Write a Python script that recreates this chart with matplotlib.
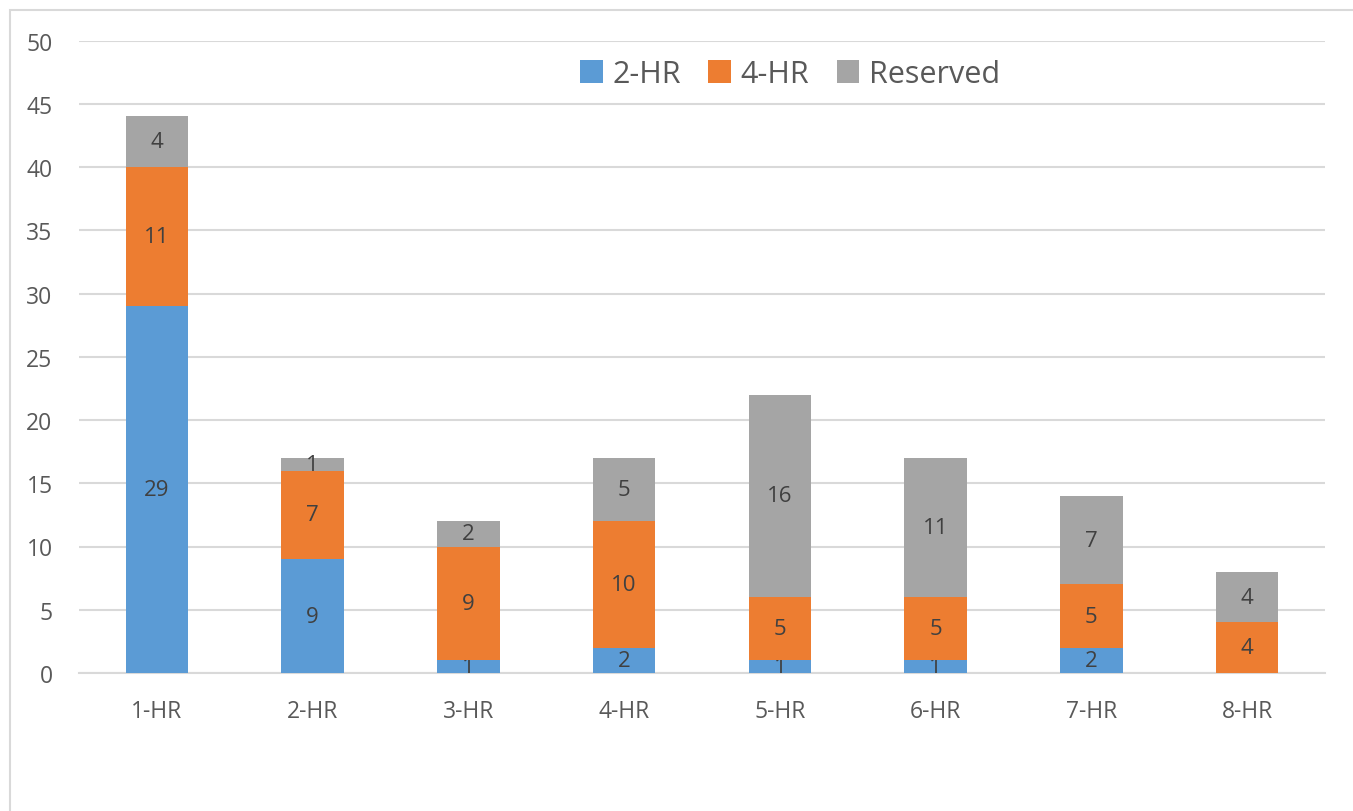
import matplotlib
matplotlib.use("Agg")
import matplotlib.pyplot as plt
from matplotlib.patches import Rectangle

categories = ["1-HR", "2-HR", "3-HR", "4-HR", "5-HR", "6-HR", "7-HR", "8-HR"]
series_names = ["2-HR", "4-HR", "Reserved"]
two_hr = [29, 9, 1, 2, 1, 1, 2, 0]
four_hr = [11, 7, 9, 10, 5, 5, 5, 4]
reserved = [4, 1, 2, 5, 16, 11, 7, 4]
y_ticks = [0, 5, 10, 15, 20, 25, 30, 35, 40, 45, 50]

colors = ["#5B9BD5", "#ED7D31", "#A5A5A5"]
plt.rcParams["font.family"] = ["Open Sans", "DejaVu Sans"]

W, H = 1353, 812
fig = plt.figure(figsize=(W / 100, H / 100), dpi=100)
ax = fig.add_axes([79 / W, (H - 674) / H, (1325 - 79) / W, (674 - 41.5) / H])

x = list(range(len(categories)))
bottom = [0] * len(categories)
for name, vals, col in zip(series_names, [two_hr, four_hr, reserved], colors):
    bars = ax.bar(x, vals, width=0.4, bottom=bottom, color=col, label=name, zorder=3)
    ax.bar_label(bars, labels=[str(v) if v else "" for v in vals],
                 label_type="center", fontsize=16, color="#404040")
    bottom = [b + v for b, v in zip(bottom, vals)]

ax.set_xlim(-0.5, len(categories) - 0.5)
ax.set_ylim(0, 50)
ax.set_yticks(y_ticks)
ax.set_xticks(x)
ax.set_xticklabels(categories)
ax.yaxis.grid(True, color="#D9D9D9", linewidth=1.5, zorder=0)
ax.set_axisbelow(True)
for s in ["top", "right", "left"]:
    ax.spines[s].set_visible(False)
ax.spines["bottom"].set_color("#D9D9D9")
ax.spines["bottom"].set_linewidth(1.5)
ax.tick_params(axis="both", length=0, labelsize=16.5, colors="#595959")
ax.tick_params(axis="y", pad=19)
ax.tick_params(axis="x", pad=19)

leg = fig.legend(loc="center", bbox_to_anchor=(790 / W, (H - 75) / H), ncol=3,
                 frameon=False, fontsize=22, handlelength=0.75, handleheight=0.75,
                 handletextpad=0.3, columnspacing=0.9, labelcolor="#595959")

# chart area border
fig.add_artist(Rectangle((10 / W, -0.1), 1.2, (H - 11) / H + 0.1,
                         transform=fig.transFigure, fill=False,
                         edgecolor="#D9D9D9", linewidth=1.5))

fig.savefig("out.png", dpi=100)
